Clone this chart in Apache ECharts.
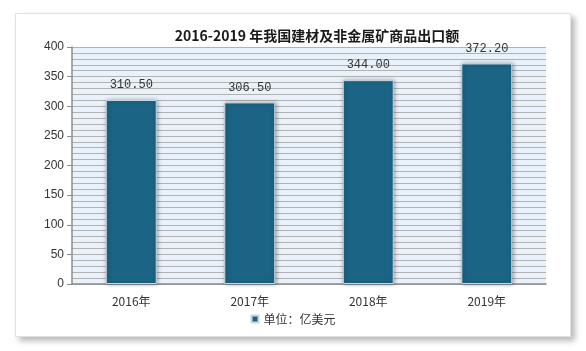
<!DOCTYPE html>
<html>
<head>
<meta charset="utf-8">
<script src="https://cdn.jsdelivr.net/npm/echarts@6/dist/echarts.min.js"></script>
<style>
  html, body { margin: 0; padding: 0; background: #fff; }
  #card {
    position: absolute; left: 15px; top: 13px; width: 554px; height: 322px;
    background: #fff; border: 1px solid #e2e2e2;
    box-shadow: 4px 4px 6px rgba(0,0,0,0.28);
  }
  #main { position: absolute; left: 0; top: 0; width: 586px; height: 351px; }
</style>
</head>
<body>
<div id="card"></div>
<div id="main"></div>
<script>
// 数据
var years = ['2016年', '2017年', '2018年', '2019年'];
var exportValues = [310.5, 306.5, 344.0, 372.2];
var seriesName = '单位：亿美元';

var chart = echarts.init(document.getElementById('main'));

option = {
    animation: false,
    title: {
        text: '2016-2019 年我国建材及非金属矿商品出口额',
        left: 312,
        textAlign: 'center',
        top: 24,
        textStyle: {
            fontFamily: 'Noto Sans CJK SC',
            fontSize: 14,
            fontWeight: 'bold',
            color: '#1a1a1a'
        }
    },
    legend: {
        data: [seriesName],
        bottom: 21,
        left: 'center',
        icon: 'rect',
        itemWidth: 7,
        itemHeight: 7,
        itemGap: 4,
        textStyle: { fontSize: 12, color: '#333', fontFamily: 'Noto Sans CJK SC' }
    },
    grid: {
        left: 72,
        right: 40,
        top: 47,
        bottom: 67,
        show: true,
        backgroundColor: '#e9f1fb',
        borderWidth: 0
    },
    xAxis: {
        type: 'category',
        data: years,
        axisLine: { lineStyle: { color: '#8c8c8c', width: 1.5 } },
        axisTick: { show: false },
        axisLabel: { color: '#333', fontSize: 12, margin: 11, fontFamily: 'Noto Sans CJK SC' }
    },
    yAxis: {
        type: 'value',
        min: 0,
        max: 400,
        interval: 50,
        axisLine: { show: true, lineStyle: { color: '#8c8c8c', width: 1.5 } },
        axisTick: { show: true, length: 5, lineStyle: { color: '#8c8c8c' } },
        axisLabel: { color: '#333', fontSize: 12, margin: 8 },
        splitLine: { show: true, lineStyle: { color: '#b2b2b2', width: 1.2 } },
        minorTick: { show: false, splitNumber: 5 },
        minorSplitLine: { show: true, lineStyle: { color: '#b2b2b2', width: 1.2 } }
    },
    series: [{
        name: seriesName,
        type: 'bar',
        data: exportValues,
        barWidth: '43%',
        itemStyle: {
            color: '#1b6485',
            borderColor: '#c9d6e0',
            borderWidth: 1,
            shadowColor: 'rgba(0,0,0,0.35)',
            shadowBlur: 4,
            shadowOffsetX: 1,
            shadowOffsetY: 0
        },
        label: {
            show: true,
            position: 'top',
            distance: 9,
            color: '#333',
            fontSize: 12,
            fontFamily: 'Liberation Mono',
            formatter: function (p) { return p.value.toFixed(2); }
        }
    }]
};
chart.setOption(option);
</script>
</body>
</html>
